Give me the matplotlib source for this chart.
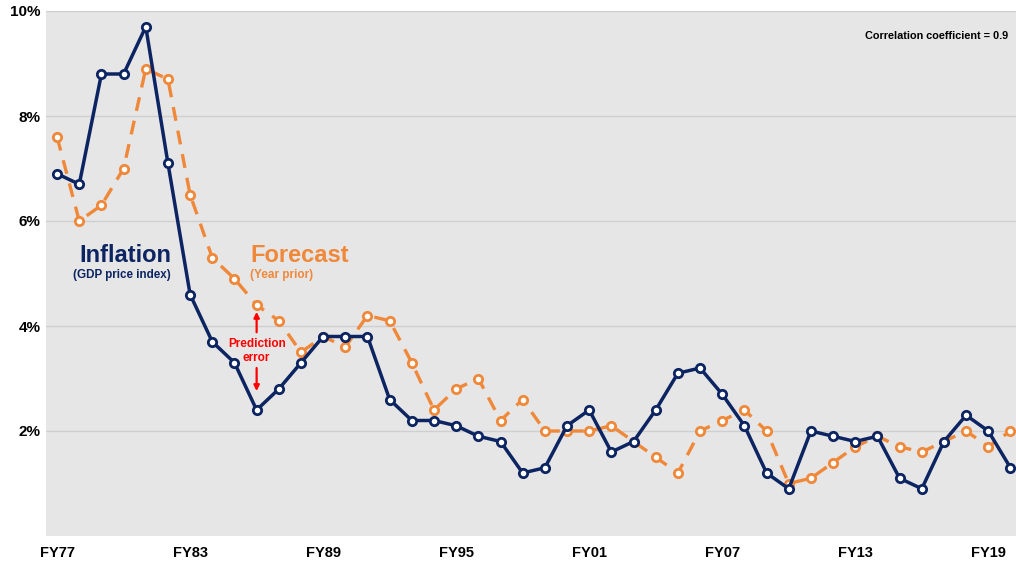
import matplotlib
matplotlib.use("Agg")
import matplotlib.pyplot as plt

plt.rcParams['font.family'] = ['Liberation Sans', 'DejaVu Sans']

years = [f"FY{y % 100:02d}" for y in range(1977, 2021)]

inflation = [6.9, 6.7, 8.8, 8.8, 9.7, 7.1, 4.6, 3.7, 3.3, 2.4,
             2.8, 3.3, 3.8, 3.8, 3.8, 2.6, 2.2, 2.2, 2.1, 1.9,
             1.8, 1.2, 1.3, 2.1, 2.4, 1.6, 1.8, 2.4, 3.1, 3.2,
             2.7, 2.1, 1.2, 0.9, 2.0, 1.9, 1.8, 1.9, 1.1, 0.9,
             1.8, 2.3, 2.0, 1.3]

forecast = [7.6, 6.0, 6.3, 7.0, 8.9, 8.7, 6.5, 5.3, 4.9, 4.4,
            4.1, 3.5, 3.8, 3.6, 4.2, 4.1, 3.3, 2.4, 2.8, 3.0,
            2.2, 2.6, 2.0, 2.0, 2.0, 2.1, 1.8, 1.5, 1.2, 2.0,
            2.2, 2.4, 2.0, 1.0, 1.1, 1.4, 1.7, 1.9, 1.7, 1.6,
            1.8, 2.0, 1.7, 2.0]

tick_labels = ["FY77", "FY83", "FY89", "FY95", "FY01", "FY07", "FY13", "FY19"]
y_ticks = [2, 4, 6, 8, 10]

NAVY = "#0c2461"
ORANGE = "#f0883a"
BG = "#e6e6e6"

fig = plt.figure(figsize=(10.16, 5.65), dpi=100)
ax = fig.add_axes([46 / 1016, 29 / 565, (1016 - 46) / 1016, (536 - 11) / 565])
ax.set_facecolor(BG)

x = list(range(len(years)))

ax.plot(x, forecast, color=ORANGE, lw=2.4, dashes=(4.2, 3.0),
        marker='o', ms=6, mfc='white', mec=ORANGE, mew=2.0, zorder=3)
ax.plot(x, inflation, color=NAVY, lw=2.5,
        marker='o', ms=6, mfc='white', mec=NAVY, mew=2.0, zorder=4)

ax.set_xlim(-0.5, 43.25)
ax.set_ylim(0, 10)
ax.set_yticks(y_ticks)
ax.set_yticklabels([f"{v}%" for v in y_ticks], fontsize=11, fontweight='bold')
tick_pos = [years.index(t) for t in tick_labels]
ax.set_xticks(tick_pos)
ax.set_xticklabels(tick_labels, fontsize=10.5, fontweight='bold')
ax.tick_params(axis='both', length=0)
ax.tick_params(axis='x', pad=7)
ax.tick_params(axis='y', pad=4)
for s in ax.spines.values():
    s.set_visible(False)
ax.grid(axis='y', color='#cfcfcf', lw=1)
ax.set_axisbelow(True)

# series labels
ax.text(5.14, 5.22, "Inflation", color=NAVY, fontsize=17, fontweight='bold',
        ha='right', va='baseline')
ax.text(5.14, 4.91, "(GDP price index)", color=NAVY, fontsize=8.4,
        fontweight='bold', ha='right', va='baseline')
ax.text(8.70, 5.22, "Forecast", color=ORANGE, fontsize=17, fontweight='bold',
        ha='left', va='baseline')
ax.text(8.70, 4.91, "(Year prior)", color=ORANGE, fontsize=8.5,
        fontweight='bold', ha='left', va='baseline')

# prediction error annotation at FY86
i86 = years.index("FY86")
ax.annotate("", xy=(i86, 4.27), xytext=(i86, 3.88),
            arrowprops=dict(arrowstyle='-|>', color='red', lw=1.6,
                            mutation_scale=8, shrinkA=0, shrinkB=0))
ax.annotate("", xy=(i86, 2.76), xytext=(i86, 3.20),
            arrowprops=dict(arrowstyle='-|>', color='red', lw=1.6,
                            mutation_scale=8, shrinkA=0, shrinkB=0))
ax.text(i86, 3.52, "Prediction\nerror", color='red', fontsize=8.5,
        fontweight='bold', ha='center', va='center', linespacing=1.2)

ax.text(0.9915, 0.953, "Correlation coefficient = 0.9", transform=ax.transAxes,
        fontsize=7.8, fontweight='bold', ha='right', va='center')

fig.savefig("out.png", dpi=100)
